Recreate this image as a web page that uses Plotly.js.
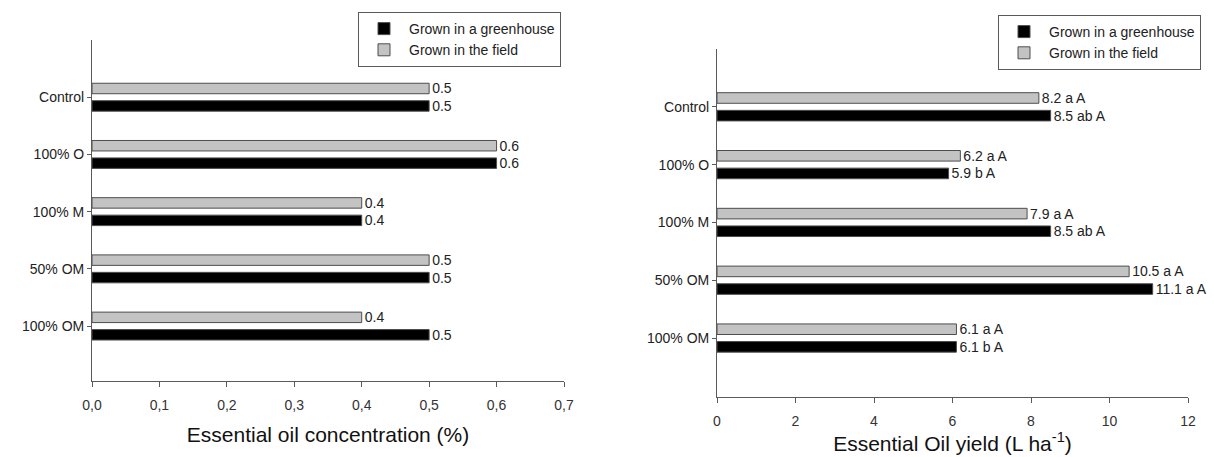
<!DOCTYPE html>
<html>
<head>
<meta charset="utf-8">
<script src="https://cdn.plot.ly/plotly-3.0.1.min.js"></script>
<style>html,body{margin:0;padding:0;background:#fff;}#chart{width:1214px;height:457px;}</style>
</head>
<body>
<div id="chart"></div>
<script>
const categories = ['Control', '100% O', '100% M', '50% OM', '100% OM'];
const concGreenhouse = [0.5, 0.6, 0.4, 0.5, 0.5];
const concField = [0.5, 0.6, 0.4, 0.5, 0.4];
const yieldGreenhouse = [8.5, 5.9, 8.5, 11.1, 6.1];
const yieldField = [8.2, 6.2, 7.9, 10.5, 6.1];
const yieldGreenhouseLetters = ['ab A', 'b A', 'ab A', 'a A', 'b A'];
const yieldFieldLetters = ['a A', 'a A', 'a A', 'a A', 'a A'];
const concTicks = [0, 0.1, 0.2, 0.3, 0.4, 0.5, 0.6, 0.7];
const yieldTicks = [0, 2, 4, 6, 8, 10, 12];
const seriesNames = ['Grown in a greenhouse', 'Grown in the field'];

const FONT = '"Liberation Sans", Arial, sans-serif';
const AXC = '#5a5a5a';
const BLACK = '#000000';
const GREY = '#c3c3c3';
const OUTLINE = '#4d4d4d';

function barTrace(vals, labels, name, color, xa, ya, leg, showleg) {
  return {
    type: 'bar', orientation: 'h', y: categories, x: vals, name: name,
    xaxis: xa, yaxis: ya, legend: leg, showlegend: showleg,
    marker: {color: color, line: {color: OUTLINE, width: 1}},
    text: labels, textposition: 'outside', constraintext: 'none', cliponaxis: false,
    textfont: {family: FONT, size: 14, color: '#222'},
    hoverinfo: 'x+y+name'
  };
}

const data = [
  barTrace(concField, concField.map(v => v.toFixed(1)), seriesNames[1], GREY, 'x', 'y', 'legend', true),
  barTrace(concGreenhouse, concGreenhouse.map(v => v.toFixed(1)), seriesNames[0], BLACK, 'x', 'y', 'legend', true),
  barTrace(yieldField, yieldField.map((v, i) => v.toFixed(1) + ' ' + yieldFieldLetters[i]), seriesNames[1], GREY, 'x2', 'y2', 'legend2', true),
  barTrace(yieldGreenhouse, yieldGreenhouse.map((v, i) => v.toFixed(1) + ' ' + yieldGreenhouseLetters[i]), seriesNames[0], BLACK, 'x2', 'y2', 'legend2', true)
];

const xCommon = {
  showline: true, linecolor: AXC, linewidth: 1, ticks: 'outside', ticklen: 5, tickcolor: AXC,
  ticklabelstandoff: 6,
  showgrid: false, zeroline: false, tickfont: {family: FONT, size: 14, color: '#333'}, fixedrange: true
};
const yCommon = {
  type: 'category', showline: true, linecolor: AXC, linewidth: 1, ticks: 'outside', ticklen: 4, tickcolor: AXC,
  showgrid: false, zeroline: false, tickfont: {family: FONT, size: 14, color: '#222'}, fixedrange: true
};
const legCommon = {
  traceorder: 'reversed', bordercolor: AXC, borderwidth: 1, bgcolor: '#fff',
  font: {family: FONT, size: 14, color: '#222'}, xanchor: 'left', yanchor: 'top', tracegroupgap: 0,
  itemwidth: 40
};

const layout = {
  width: 1214, height: 457,
  margin: {l: 0, r: 0, t: 0, b: 0},
  paper_bgcolor: '#fff', plot_bgcolor: '#fff',
  separators: ',.',
  barmode: 'group', bargap: 0.39, bargroupgap: 0.4,
  font: {family: FONT, color: '#222'},
  xaxis: Object.assign({}, xCommon, {
    domain: [92 / 1214, 564 / 1214], anchor: 'y', range: [0, 0.7], tickvals: concTicks, tickformat: '.1f',
    title: {text: 'Essential oil concentration (%)', font: {family: FONT, size: 21, color: '#111'}, standoff: 15}
  }),
  yaxis: Object.assign({}, yCommon, {
    domain: [1 - 381 / 457, 1 - 40 / 457], anchor: 'x', range: [4.96, -1.0]
  }),
  xaxis2: Object.assign({}, xCommon, {
    domain: [717 / 1214, 1188 / 1214], anchor: 'y2', range: [0, 12], tickvals: yieldTicks,
    title: {text: 'Essential Oil yield (L ha<sup>-1</sup>)', font: {family: FONT, size: 21, color: '#111'}, standoff: 2}
  }),
  yaxis2: Object.assign({}, yCommon, {
    domain: [1 - 397 / 457, 1 - 49 / 457], anchor: 'x2', range: [5.02, -1.0]
  }),
  legend: Object.assign({}, legCommon, {x: 358 / 1214, y: 1 - 12 / 457}),
  legend2: Object.assign({}, legCommon, {x: 998 / 1214, y: 1 - 15 / 457})
};

Plotly.newPlot('chart', data, layout, {displayModeBar: false, staticPlot: true});
</script>
</body>
</html>
